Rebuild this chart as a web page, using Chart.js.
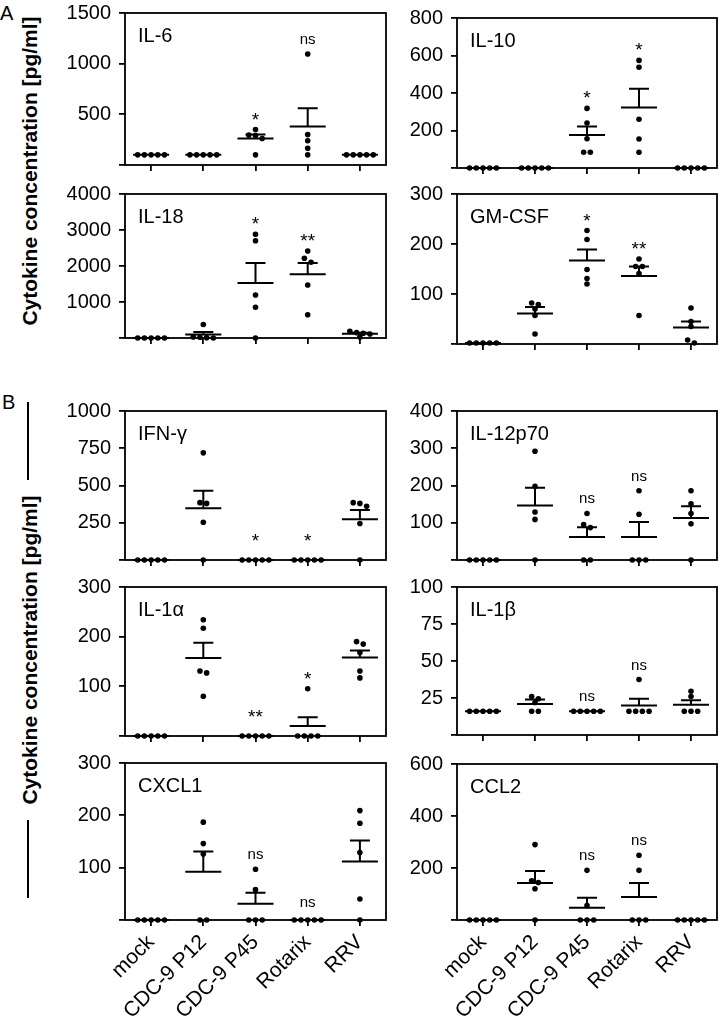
<!DOCTYPE html>
<html><head><meta charset="utf-8">
<script src="https://cdn.jsdelivr.net/npm/chart.js@4.4.1/dist/chart.umd.min.js"></script>
<style>
body{margin:0;background:#fff;width:720px;height:1027px;position:relative;overflow:hidden;font-family:"Liberation Sans",Arial,sans-serif;color:#000;}
canvas{position:absolute;}
.letter{position:absolute;font-size:20px;line-height:20px;}
.ytitle{position:absolute;font-weight:bold;font-size:21px;white-space:nowrap;transform:translate(-50%,-50%) rotate(-90deg);}
.vline{position:absolute;width:2px;background:#000;}
</style></head><body>
<div class="letter" style="left:0;top:3px">A</div>
<div class="letter" style="left:2px;top:392px">B</div>
<div class="ytitle" style="left:30px;top:171px">Cytokine concentration [pg/ml]</div>
<div class="ytitle" style="left:30px;top:650px">Cytokine concentration [pg/ml]</div>
<div class="vline" style="left:27px;top:402px;height:78px"></div>
<div class="vline" style="left:27px;top:820px;height:78px"></div>
<script>
// ---------------- DATA ----------------
const categories = ['mock', 'CDC-9 P12', 'CDC-9 P45', 'Rotarix', 'RRV'];

const il6Axis = [1500, 500];
const il6Values = [[100,100,100,100,100],[100,100,100,100,100],[350,295,290,262,100],[1095,300,240,165,100],[100,100,100,100,100]];
const il6Mean = [100, 100, 262, 380, 100];
const il6SemTop = [100, 100, 300, 560, 100];
const il6Marks = ['', '', '*', 'ns', ''];

const il10Axis = [800, 200];
const il10Values = [[0,0,0,0,0],[0,0,0,0,0],[318,240,156,84,84],[574,537,260,155,84],[0,0,0,0,0]];
const il10Mean = [0, 0, 176, 323, 0];
const il10SemTop = [0, 0, 221, 423, 0];
const il10Marks = ['', '', '*', '*', ''];

const il18Axis = [4000, 1000];
const il18Values = [[0,0,0,0,0],[375,30,20,10,0],[2880,2700,1195,856,0],[2418,2215,2106,1473,645],[185,150,130,110,25]];
const il18Mean = [0, 100, 1530, 1770, 120];
const il18SemTop = [0, 165, 2080, 2080, 145];
const il18Marks = ['', '', '*', '**', ''];

const gmcsfAxis = [300, 100];
const gmcsfValues = [[2,2,2,2,2],[82,79,70,57,20],[227,209,149,131,120],[170,155,155,141,57],[72,45,35,8,2]];
const gmcsfMean = [2, 61, 167, 136, 33];
const gmcsfSemTop = [2, 74, 189, 155, 45];
const gmcsfMarks = ['', '', '*', '**', ''];

const ifngAxis = [1000, 250];
const ifngValues = [[0,0,0,0,0],[719,385,380,253,0],[0,0,0,0,0],[0,0,0,0,0],[385,380,360,245,0]];
const ifngMean = [0, 347, 0, 0, 274];
const ifngSemTop = [0, 464, 0, 0, 335];
const ifngMarks = ['', '', '*', '*', ''];

const il12Axis = [400, 100];
const il12Values = [[0,0,0,0,0],[292,198,129,109,0],[125,95,87,0,0],[186,123,0,0,0],[186,151,125,97,0]];
const il12Mean = [0, 146, 62, 62, 113];
const il12SemTop = [0, 194, 88, 102, 144];
const il12Marks = ['', '', 'ns', 'ns', ''];

const il1aAxis = [300, 100];
const il1aValues = [[0,0,0,0,0],[234,217,131,127,80],[0,0,0,0,0],[95,0,0,0,0],[190,185,168,131,117]];
const il1aMean = [0, 157, 0, 20, 158];
const il1aSemTop = [0, 188, 0, 38, 172];
const il1aMarks = ['', '', '**', '*', ''];

const il1bAxis = [100, 25];
const il1bValues = [[16,16,16,16,16],[26,24.5,22,16,16],[16,16,16,16,16],[37.5,16,16,16,16],[29.6,26,16,16,16]];
const il1bMean = [16, 21, 16, 20, 20.4];
const il1bSemTop = [16, 24, 16, 24.5, 23.5];
const il1bMarks = ['', '', 'ns', 'ns', ''];

const cxcl1Axis = [300, 100];
const cxcl1Values = [[0,0,0,0,0],[187,146,126,0,0],[97,58,0,0,0],[0,0,0,0,0],[209,185,129,40,0]];
const cxcl1Mean = [0, 92, 31, 0, 112];
const cxcl1SemTop = [0, 131, 52, 0, 152];
const cxcl1Marks = ['', '', 'ns', 'ns', ''];

const ccl2Axis = [600, 200];
const ccl2Values = [[0,0,0,0,0],[290,151,144,120,0],[191,56,0,0,0],[249,191,0,0,0],[0,0,0,0,0]];
const ccl2Mean = [0, 142, 47, 88, 0];
const ccl2SemTop = [0, 188, 86, 142, 0];
const ccl2Marks = ['', '', 'ns', 'ns', ''];

// ---------------- LAYOUT ----------------
const panels = [
  {title:'IL-6',     axis:il6Axis,   values:il6Values,   mean:il6Mean,   sem:il6SemTop,   marks:il6Marks,   box:[125,7,386,173],   bottom:false},
  {title:'IL-10',    axis:il10Axis,  values:il10Values,  mean:il10Mean,  sem:il10SemTop,  marks:il10Marks,  box:[457,12,717,176],  bottom:false},
  {title:'IL-18',    axis:il18Axis,  values:il18Values,  mean:il18Mean,  sem:il18SemTop,  marks:il18Marks,  box:[125,188,386,346], bottom:false},
  {title:'GM-CSF',   axis:gmcsfAxis, values:gmcsfValues, mean:gmcsfMean, sem:gmcsfSemTop, marks:gmcsfMarks, box:[457,188,717,352], bottom:false},
  {title:'IFN-γ',    axis:ifngAxis,  values:ifngValues,  mean:ifngMean,  sem:ifngSemTop,  marks:ifngMarks,  box:[125,405,386,568], bottom:false},
  {title:'IL-12p70', axis:il12Axis,  values:il12Values,  mean:il12Mean,  sem:il12SemTop,  marks:il12Marks,  box:[457,405,717,568], bottom:false},
  {title:'IL-1α',    axis:il1aAxis,  values:il1aValues,  mean:il1aMean,  sem:il1aSemTop,  marks:il1aMarks,  box:[125,581,386,744], bottom:false},
  {title:'IL-1β',    axis:il1bAxis,  values:il1bValues,  mean:il1bMean,  sem:il1bSemTop,  marks:il1bMarks,  box:[457,581,717,743], bottom:false},
  {title:'CXCL1',    axis:cxcl1Axis, values:cxcl1Values, mean:cxcl1Mean, sem:cxcl1SemTop, marks:cxcl1Marks, box:[125,757,386,920], bottom:true},
  {title:'CCL2',     axis:ccl2Axis,  values:ccl2Values,  mean:ccl2Mean,  sem:ccl2SemTop,  marks:ccl2Marks,  box:[457,758,717,920], bottom:true}
];

Chart.defaults.font.family = '"Liberation Sans", Arial, sans-serif';
Chart.defaults.font.size = 20;
Chart.defaults.color = '#000';

const Y_W = 70, PAD_T = 14, PAD_R = 6;
const DOT_STEP_PX = 6.7;

// beeswarm-like spreading of near-equal values (in data units)
function swarm(vals, pxPerUnit, stepUnits) {
  const s = vals.slice().sort((a, b) => b - a);
  const out = [];
  let k = 0;
  while (k < s.length) {
    let j = k;
    while (j + 1 < s.length && (s[k] - s[j + 1]) * pxPerUnit < 5) j++;
    const n = j - k + 1;
    for (let m = 0; m < n; m++) out.push({dx: (m - (n - 1) / 2) * stepUnits, v: s[k + m]});
    k = j + 1;
  }
  return out;
}

const overlay = {
  id: 'overlay',
  beforeDatasetsDraw(chart) {
    const p = chart.options.plugins.overlay;
    const {ctx, chartArea: a, scales: {x, y}} = chart;
    ctx.save();
    ctx.strokeStyle = '#000';
    ctx.lineWidth = 1.8;
    ctx.strokeRect(a.left, a.top, a.right - a.left, a.bottom - a.top);
    ctx.lineWidth = 2;
    p.mean.forEach((m, i) => {
      const cx = x.getPixelForValue(i);
      const my = y.getPixelForValue(m);
      const sy = y.getPixelForValue(p.sem[i]);
      ctx.beginPath();
      ctx.moveTo(cx - 18, my); ctx.lineTo(cx + 18, my);
      if (my - sy > 0.5) {
        ctx.moveTo(cx, my); ctx.lineTo(cx, sy);
        ctx.moveTo(cx - 10, sy); ctx.lineTo(cx + 10, sy);
      }
      ctx.stroke();
    });
    ctx.restore();
  },
  afterDatasetsDraw(chart) {
    const p = chart.options.plugins.overlay;
    const {ctx, chartArea: a, scales: {x, y}} = chart;
    ctx.save();
    ctx.fillStyle = '#000';
    ctx.font = '20px "Liberation Sans", Arial, sans-serif';
    ctx.textAlign = 'left';
    ctx.textBaseline = 'middle';
    ctx.fillText(p.title, a.left + 13, a.top + 23);
    ctx.textAlign = 'center';
    ctx.textBaseline = 'alphabetic';
    p.marks.forEach((mk, i) => {
      if (!mk) return;
      const top = Math.max(...p.values[i], p.sem[i]);
      const cx = x.getPixelForValue(i);
      let ty;
      if (mk.indexOf('*') >= 0) {
        ctx.font = '19px "Liberation Sans", Arial, sans-serif';
        ty = y.getPixelForValue(top) - (top === 0 ? 13 : 4);
      } else {
        ctx.font = '15px "Liberation Sans", Arial, sans-serif';
        ty = y.getPixelForValue(top) - (top === 0 ? 13 : 10);
      }
      ctx.fillText(mk, cx, ty);
    });
    ctx.restore();
  }
};

panels.forEach(p => {
  const [l, t, r, b] = p.box;
  const xh = p.bottom ? (1027 - b) : 12;
  const cv = document.createElement('canvas');
  const W = (r - l) + Y_W + PAD_R, H = (b - t) + PAD_T + xh;
  cv.width = W; cv.height = H;
  cv.style.left = (l - Y_W) + 'px';
  cv.style.top = (t - PAD_T) + 'px';
  cv.style.width = W + 'px'; cv.style.height = H + 'px';
  document.body.appendChild(cv);

  const [ymax, ystep] = p.axis;
  const pxPerUnit = (b - t) / ymax;
  const stepUnits = DOT_STEP_PX / ((r - l) / categories.length);
  const pts = [];
  p.values.forEach((vals, i) => {
    swarm(vals, pxPerUnit, stepUnits).forEach(o => pts.push({x: i + o.dx, y: o.v}));
  });

  new Chart(cv, {
    type: 'scatter',
    data: {datasets: [{
      data: pts, pointRadius: 2.8, pointHoverRadius: 2.8,
      backgroundColor: '#000', borderWidth: 0, clip: false
    }]},
    options: {
      responsive: false, animation: false, devicePixelRatio: 1,
      layout: {padding: {top: PAD_T, right: PAD_R, left: 0, bottom: 0}},
      plugins: {legend: {display: false}, tooltip: {enabled: false},
        overlay: {title: p.title, values: p.values, mean: p.mean, sem: p.sem, marks: p.marks}},
      scales: {
        x: {
          type: 'linear', min: -0.5, max: 4.5,
          afterBuildTicks: s => { s.ticks = categories.map((c, i) => ({value: i})); },
          afterFit: s => { s.height = xh; },
          grid: {drawOnChartArea: false, drawTicks: true, tickLength: 6, color: '#000', lineWidth: 1.8},
          border: {display: false},
          ticks: {
            display: p.bottom, minRotation: 45, maxRotation: 45, autoSkip: false, padding: 4,
            callback: v => categories[v] ?? '', font: {size: 21}
          }
        },
        y: {
          min: 0, max: ymax,
          afterFit: s => { s.width = Y_W; },
          grid: {drawOnChartArea: false, drawTicks: true, tickLength: 6, color: '#000', lineWidth: 1.8},
          border: {display: false},
          ticks: {stepSize: ystep, padding: 8, callback: v => v === 0 ? '' : v, font: {size: 20}}
        }
      }
    },
    plugins: [overlay]
  });
});
</script>
</body></html>
